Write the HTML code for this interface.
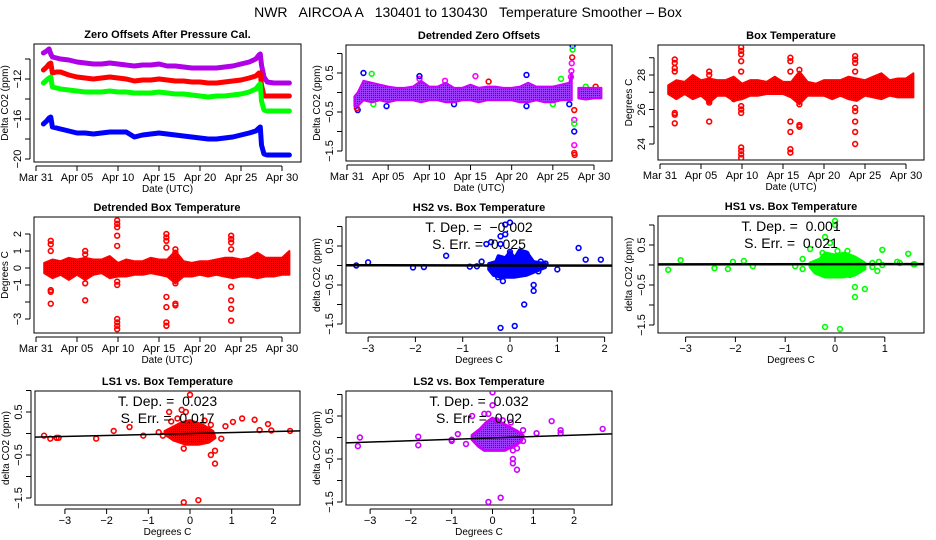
<!DOCTYPE html>
<html><head><meta charset="utf-8"><style>
body{margin:0;background:#fff}
svg{display:block;font-family:"Liberation Sans",sans-serif}
</style></head><body>
<svg id="c" width="936" height="540" viewBox="0 0 936 540">
<defs>
<pattern id="pRed" width="2" height="2" patternUnits="userSpaceOnUse"><rect width="2" height="2" fill="#f00"/><rect x="1" y="1" width="1" height="1" fill="#800"/></pattern>
<pattern id="pMag" width="2" height="2" patternUnits="userSpaceOnUse"><rect width="2" height="2" fill="#f0f"/><rect x="1" y="1" width="1" height="1" fill="#40f"/><rect x="0" y="0" width="1" height="1" fill="#a040ff"/></pattern>
</defs>
<text x="468" y="17" text-anchor="middle" font-size="14" style="white-space:pre">NWR   AIRCOA A   130401 to 130430   Temperature Smoother – Box</text>
</svg>
<script>
// ---- data ----
const p1Days=[0.9,1.3,1.6,1.8,2.0,2.5,3,4,5,6,7,8,9,10,11,12,13,14,15,16,17,18,19,20,21,22,23,24,25,26,26.8,27.2,27.35,27.5,27.8,28.2,29,30,30.9];
const p1Purple=[-9.4,-9.2,-9.0,-9.5,-9.8,-9.9,-10.0,-10.1,-10.3,-10.4,-10.5,-10.5,-10.4,-10.5,-10.6,-10.7,-10.6,-10.6,-10.5,-10.7,-10.7,-10.8,-10.9,-10.9,-10.9,-10.9,-10.8,-10.7,-10.5,-10.3,-10.0,-9.6,-9.5,-10.6,-11.8,-12.3,-12.4,-12.4,-12.4];
const p1Red=[-11.1,-10.8,-10.5,-10.4,-11.4,-11.3,-11.3,-11.6,-11.8,-11.9,-12.0,-11.9,-11.8,-11.9,-12.0,-12.2,-12.1,-12.1,-12.0,-12.1,-12.2,-12.2,-12.3,-12.3,-12.4,-12.4,-12.3,-12.2,-12.1,-11.9,-11.7,-11.4,-11.4,-12.6,-13.7,-13.7,-13.7,-13.7,-13.7];
const p1Green=[-12.4,-12.1,-11.9,-11.8,-12.8,-12.9,-13.0,-13.1,-13.2,-13.3,-13.3,-13.3,-13.2,-13.3,-13.3,-13.4,-13.4,-13.4,-13.3,-13.4,-13.5,-13.5,-13.6,-13.7,-13.8,-13.7,-13.7,-13.6,-13.5,-13.3,-13.0,-12.6,-12.5,-14.2,-15.1,-15.2,-15.2,-15.2,-15.2];
const p1Blue=[-16.5,-16.2,-15.9,-15.8,-16.8,-16.9,-17.0,-17.2,-17.4,-17.4,-17.5,-17.4,-17.3,-17.3,-17.3,-17.8,-17.6,-17.5,-17.4,-17.5,-17.6,-17.7,-17.8,-17.9,-18.0,-18.0,-17.9,-17.8,-17.6,-17.4,-17.2,-16.9,-16.8,-18.6,-19.5,-19.6,-19.6,-19.6,-19.6];

const p2Days=[0.9,1.3,2,3,4,5,6,7,8,9,10,11,12,13,14,15,16,17,18,19,20,21,22,23,24,25,26,27,27.3];
const p2Top=[-0.1,0.0,0.3,0.25,0.2,0.15,0.12,0.12,0.15,0.3,0.15,0.15,0.25,0.12,0.12,0.2,0.12,0.15,0.15,0.12,0.12,0.15,0.25,0.15,0.15,0.15,0.2,0.25,0.5];
const p2Bot=[-0.35,-0.35,-0.2,-0.25,-0.2,-0.25,-0.2,-0.2,-0.2,-0.25,-0.2,-0.2,-0.25,-0.25,-0.2,-0.2,-0.25,-0.2,-0.2,-0.2,-0.2,-0.25,-0.25,-0.2,-0.25,-0.25,-0.2,-0.2,-0.2];
const p2Days2=[28.1,29,30,30.9];
const p2Top2=[0.12,0.12,0.12,0.12];
const p2Bot2=[-0.15,-0.18,-0.15,-0.15];
const p2OutDay=[1.3,2,3,3.2,4.8,1.2,8.8,8.8,15.6,17.2,21.8,21.8,26,25,27,27.4,27.4,27.35,27.3,27.25,27.2,27.6,27.6,27.6,27.6,27.6,27.6,27.65,29,30.2,11.9,13];
const p2OutVal=[-0.45,0.5,0.48,-0.3,-0.35,-0.4,0.35,0.42,0.42,0.28,0.45,-0.35,0.35,-0.3,-0.3,1.2,1.1,0.9,0.75,0.55,0.4,-0.45,-0.7,-0.8,-1.0,-1.35,-1.55,-1.6,0.15,0.15,0.3,-0.3];
const p2OutSer=[3,3,2,2,3,0,1,3,1,0,3,3,2,2,3,3,2,0,1,1,1,0,1,2,3,1,0,0,2,0,1,3];

const p3Day=[1,2,3,4,5,6,7,8,9,10,11,12,13,14,15,16,17,18,19,20,21,22,23,24,25,26,27,28,29,30,30.9];
const p3Top=[27.4,27.7,27.6,28.0,27.7,27.8,27.7,27.7,27.9,27.5,27.7,27.7,27.6,27.9,27.6,27.6,28.2,27.6,27.5,27.7,27.7,27.7,27.9,27.8,27.7,27.9,28.1,27.7,27.8,27.8,28.1];
const p3Bot=[26.9,26.6,26.9,26.6,26.8,26.4,26.8,26.8,26.5,26.6,26.8,26.8,26.9,26.9,26.9,26.7,26.3,26.8,26.8,26.8,26.6,26.8,26.6,26.5,26.8,26.7,26.6,26.8,26.7,26.7,26.7];
const p3OutDay=[1.8,1.8,1.8,1.8,1.8,1.8,1.8,6,6,6,6,6,9,9.9,9.9,9.9,9.9,9.9,9.9,9.9,9.9,9.9,9.9,9.9,9.9,15.9,15.9,15.9,15.9,15.9,15.9,15.9,17,17,17,17,23.8,23.8,23.8,23.8,23.8,23.8,23.8,23.8,23.8];
const p3OutVal=[28.9,28.7,28.4,28.2,25.8,25.7,25.2,28.2,28.0,26.5,26.4,25.3,26.6,29.6,29.4,29.2,28.8,28.2,26.2,26.0,25.8,23.8,23.6,23.4,23.2,29.0,28.8,28.2,25.3,24.7,23.7,23.5,28.3,26.3,25.1,25.0,29.1,28.9,28.7,28.2,26.1,25.9,25.3,24.7,24.0];

const p4Top=[0.3,0.5,0.4,0.6,0.5,0.6,0.5,0.5,0.7,0.3,0.5,0.4,0.4,0.6,0.5,0.5,1.0,0.4,0.3,0.4,0.4,0.5,0.6,0.6,0.5,0.6,0.9,0.6,0.6,0.6,1.0];
const p4Bot=[-0.3,-0.6,-0.4,-0.7,-0.4,-0.7,-0.4,-0.3,-0.6,-0.5,-0.5,-0.4,-0.4,-0.3,-0.4,-0.5,-0.9,-0.5,-0.5,-0.4,-0.5,-0.4,-0.5,-0.6,-0.5,-0.5,-0.6,-0.5,-0.5,-0.4,-0.4];
const p4OutDay=[1.8,1.8,1.8,1.8,1.8,1.8,6,6,6,6,9.9,9.9,9.9,9.9,9.9,9.9,9.9,9.9,9.9,9.9,9.9,15.9,15.9,15.9,15.9,15.9,15.9,15.9,15.9,17,17,17,17,17,23.8,23.8,23.8,23.8,23.8,23.8,23.8,23.8];
const p4OutVal=[1.6,1.4,1.0,-1.4,-1.3,-2.1,1.0,0.8,-0.9,-1.9,2.8,2.6,2.4,1.9,1.3,-1.0,-0.8,-3.0,-3.2,-3.4,-3.6,2.0,1.8,1.6,1.2,-1.7,-2.3,-3.2,-3.4,1.1,0.9,-0.9,-2.1,-2.2,1.9,1.7,1.5,1.1,-1.1,-1.9,-2.4,-3.1];

const hs2CloudX=[-0.45,-0.3,-0.25,-0.1,0,0.1,0.2,0.35,0.5,0.75,0.75,0.55,0.35,0.1,-0.2,-0.35,-0.45];
const hs2CloudY=[0.05,0.1,0.25,0.2,0.35,0.2,0.4,0.35,0.1,0.05,-0.05,-0.15,-0.25,-0.3,-0.3,-0.25,-0.1];
const hs2X=[-3.25,-3,-2.05,-1.82,-1.35,-0.85,-0.7,-0.6,-0.5,-0.4,-0.2,-0.1,-0.1,0,-0.2,0,-0.15,-0.25,0.5,0.5,0.3,-0.2,0.1,0.35,0.65,0.75,1.0,1.45,1.6,1.92,0.6];
const hs2Y=[0,0.08,-0.05,-0.04,0.25,-0.03,-0.02,0.1,0.55,0.6,0.75,0.8,1.05,1.1,0.55,0.35,-0.4,-0.3,-0.5,-0.65,-1.0,-1.6,-1.55,0.3,0.1,0.05,-0.1,0.45,0.15,0.15,-0.15];
const hs2Fit=[0.0,-0.002];

const hs1CloudX=[-0.5,-0.3,-0.2,0,0.2,0.4,0.6,0.6,0.4,0.15,-0.2,-0.4,-0.5];
const hs1CloudY=[0.05,0.15,0.3,0.25,0.3,0.2,0.05,-0.1,-0.25,-0.3,-0.3,-0.2,-0.05];
const hs1X=[-3.35,-3.1,-2.42,-2.15,-2.05,-1.83,-1.65,-0.8,-0.65,-0.65,-0.5,-0.25,-0.2,-0.1,0,0,0.05,0.25,0.4,0.4,0.6,-0.2,0.1,0.75,0.75,0.88,0.85,0.95,0.95,1.25,1.3,1.47,1.58,1.6,0.3];
const hs1Y=[-0.12,0.12,-0.08,-0.1,0.08,0.1,-0.03,-0.03,0.15,-0.1,0.4,0.3,0.7,0.55,1.1,1.0,0.35,0.35,-0.55,-0.8,-0.6,-1.55,-1.6,0.05,-0.05,0.08,-0.15,0.38,0,0.08,0.05,0.28,0.02,0.02,-0.25];
const hs1Fit=[0.02,0.001];

const ls1CloudX=[-0.6,-0.4,-0.2,0,0.3,0.55,0.6,0.45,0.2,-0.1,-0.4,-0.55];
const ls1CloudY=[0.05,0.15,0.25,0.3,0.2,0.05,-0.1,-0.2,-0.25,-0.25,-0.15,-0.05];
const ls1X=[-3.5,-3.35,-3.2,-3.15,-2.25,-1.83,-1.45,-1.12,-0.75,-0.65,-0.5,-0.45,-0.3,-0.2,-0.1,0,-0.15,0.5,0.6,0.6,-0.15,0.2,0.75,0.85,1.03,1.25,1.55,1.67,1.87,1.95,2.4,0.5,0.35];
const ls1Y=[-0.05,-0.12,-0.1,-0.1,-0.12,0.06,0.15,-0.05,0.03,-0.05,0.5,0.28,0.35,0.55,0.5,0.9,-0.35,-0.5,-0.4,-0.7,-1.6,-1.55,-0.12,0.17,0.27,0.35,0.32,0.08,0.22,0.07,0.06,0.2,0.3];
const ls1Fit=[0.0,0.023];

const ls2CloudX=[-0.5,-0.3,-0.15,0,0.2,0.4,0.6,0.75,0.7,0.5,0.3,0,-0.2,-0.35,-0.5];
const ls2CloudY=[0.05,0.2,0.35,0.45,0.35,0.25,0.15,0.05,-0.1,-0.2,-0.3,-0.3,-0.3,-0.2,-0.05];
const ls2X=[-3.3,-3.25,-1.82,-1.82,-1.0,-1.0,-0.85,-0.65,-0.5,-0.2,-0.1,0,0,0.1,0.25,0.45,0.5,0.5,0.5,0.6,0.6,-0.1,0.2,0.75,0.75,1.08,1.45,1.67,1.67,2.7];
const ls2Y=[-0.2,0,0.02,-0.18,-0.08,-0.05,0.08,-0.15,0.5,0.55,0.55,0.75,1.05,0.4,0.4,0.35,-0.3,-0.5,-0.6,-0.25,-0.75,-1.5,-1.4,0.17,-0.08,0.1,0.38,0.17,0.1,0.2];
const ls2Fit=[-0.01,0.032];

const dateTicks=[0,5,10,15,20,25,30];
const dateLabels=["Mar 31","Apr 05","Apr 10","Apr 15","Apr 20","Apr 25","Apr 30"];

// ---- helpers ----
const S=document.getElementById('c');
const NS='http://www.w3.org/2000/svg';
function mk(tag,attrs,parent,txt){const e=document.createElementNS(NS,tag);for(const k in attrs)e.setAttribute(k,attrs[k]);if(txt!==undefined)e.textContent=txt;(parent||S).appendChild(e);return e;}
function lin(d0,p0,d1,p1){return v=>p0+(v-d0)*(p1-p0)/(d1-d0);}

function panel(name,box,xs,ys,xt,xl,yt,yl,title,xlab,ylab){
  const g=mk('g',{});
  
  
  const r=mk('rect',{x:box.l,y:box.t,width:box.r-box.l,height:box.b-box.t,fill:'none',stroke:'#000','stroke-width':1},g);
  
  
  const tt=mk('text',{x:(box.l+box.r)/2,y:box.t-6,'text-anchor':'middle','font-size':11,'font-weight':'bold'},g,title);
  
  
  const xa=mk('g',{},g);
  
  
  mk('line',{x1:xs(xt[0]),x2:xs(xt[xt.length-1]),y1:box.b+4,y2:box.b+4,stroke:'#000'},xa);
  xt.forEach((t,i)=>{const x=xs(t);mk('line',{x1:x,x2:x,y1:box.b+4,y2:box.b+9,stroke:'#000'},xa);
    if(xl[i])mk('text',{x:x,y:box.b+19,'text-anchor':'middle','font-size':11},xa,xl[i]);});
  const xtl=mk('text',{x:(box.l+box.r)/2,y:box.b+30,'text-anchor':'middle','font-size':10},g,xlab);
  
  
  const ya=mk('g',{},g);
  
  
  mk('line',{x1:box.l-4,x2:box.l-4,y1:ys(yt[0]),y2:ys(yt[yt.length-1]),stroke:'#000'},ya);
  yt.forEach((t,i)=>{const y=ys(t);mk('line',{x1:box.l-9,x2:box.l-4,y1:y,y2:y,stroke:'#000'},ya);
    if(yl[i])mk('text',{x:box.l-13,y:y,'text-anchor':'middle','font-size':11,transform:`rotate(-90 ${box.l-13} ${y})`},ya,yl[i]);});
  const yx=box.l-26,yy=(box.t+box.b)/2;
  const ytl=mk('text',{x:yx,y:yy,'text-anchor':'middle','font-size':10,transform:`rotate(-90 ${yx} ${yy})`},g,ylab);
  
  
  const clip='cl'+name;
  const cp=mk('clipPath',{id:clip},g);mk('rect',{x:box.l,y:box.t,width:box.r-box.l,height:box.b-box.t},cp);
  const pg=mk('g',{'clip-path':`url(#${clip})`},g);
  
  
  return pg;
}
function circ(g,x,y,col,nm){const c=mk('circle',{cx:x,cy:y,r:2.4,fill:'none',stroke:col,'stroke-width':1.6},g);
  
  return c;}
function band(g,xs,ys,days,top,bot,fill,nm){
  let pts=days.map((d,i)=>xs(d)+','+ys(top[i]));
  pts=pts.concat(days.map((d,i)=>xs(d)+','+ys(bot[i])).reverse());
  const p=mk('polygon',{points:pts.join(' '),fill:fill,stroke:fill==='url(#pRed)'?'#f00':'#c0f','stroke-width':2,'stroke-linejoin':'round'},g);
  
  
}

// ---- panel 1 ----
{const box={l:34,t:44,r:301,b:162};
 const xs=lin(0,36,30,282), ys=lin(-12,79,-16,119);
 const g=panel('zero-offsets-panel',box,xs,ys,dateTicks,dateLabels,[-10,-12,-14,-16,-18,-20],['','−12','','−16','','−20'],'Zero Offsets After Pressure Cal.','Date (UTC)','Delta CO2  (ppm)');
 [[p1Purple,'#b000e8','series-purple'],[p1Red,'#f00','series-red'],[p1Green,'#0f0','series-green'],[p1Blue,'#00f','series-blue']].forEach(([arr,col,nm])=>{
  const l=mk('polyline',{points:p1Days.map((d,i)=>xs(d)+','+ys(arr[i])).join(' '),fill:'none',stroke:col,'stroke-width':5,'stroke-linejoin':'round','stroke-linecap':'round'},g);
  
  });
}
// ---- panel 2 ----
{const box={l:346,t:45,r:612,b:161};
 const xs=lin(0,347,30,594), ys=lin(0.5,73,-1.5,151);
 const g=panel('detrended-zero-offsets-panel',box,xs,ys,dateTicks,dateLabels,[1,0.5,0,-0.5,-1,-1.5],['','0.5','','−0.5','','−1.5'],'Detrended Zero Offsets','Date (UTC)','Delta CO2  (ppm)');
 const cols=['#f00','#f0f','#0f0','#00f'];
 p2OutDay.forEach((d,i)=>circ(g,xs(d),ys(p2OutVal[i]),cols[p2OutSer[i]],'outlier-point'));
 band(g,xs,ys,p2Days,p2Top,p2Bot,'url(#pMag)','offset-band');
 band(g,xs,ys,p2Days2,p2Top2,p2Bot2,'url(#pMag)','offset-band-after');
}
// ---- panel 3 ----
{const box={l:658,t:45,r:924,b:160};
 const xs=lin(0,660,30,906), ys=lin(28,75,24,144);
 const g=panel('box-temperature-panel',box,xs,ys,dateTicks,dateLabels,[29,28,27,26,25,24],['','28','','26','','24'],'Box Temperature','Date (UTC)','Degrees C');
 band(g,xs,ys,p3Day,p3Top,p3Bot,'url(#pRed)','temperature-band');
 p3OutDay.forEach((d,i)=>circ(g,xs(d),ys(p3OutVal[i]),'#f00','outlier-point'));
}
// ---- panel 4 ----
{const box={l:34,t:217,r:300,b:333};
 const xs=lin(0,36,30,282), ys=lin(0,268,2,234);
 const g=panel('detrended-box-temperature-panel',box,xs,ys,dateTicks,dateLabels,[2,1,0,-1,-2,-3],['2','1','0','−1','','−3'],'Detrended Box Temperature','Date (UTC)','Degrees C');
 band(g,xs,ys,p3Day,p4Top,p4Bot,'url(#pRed)','temperature-band');
 p4OutDay.forEach((d,i)=>circ(g,xs(d),ys(p4OutVal[i]),'#f00','outlier-point'));
}
// ---- scatter panels ----
function scatter(name,box,xs,ys,xt,title,cx,cy,px,py,fit,col,fill,td,se,lw){
 const xl=xt.map(v=>v<0?'−'+(-v):String(v));
 const g=panel(name,box,xs,ys,xt,xl,[1,0.5,0,-0.5,-1,-1.5],['','0.5','','−0.5','','−1.5'],title,'Degrees C','delta CO2  (ppm)');
 const c=mk('polygon',{points:cx.map((x,i)=>xs(x)+','+ys(cy[i])).join(' '),fill:fill,stroke:col,'stroke-width':3,'stroke-linejoin':'round'},g);
 
 
 px.forEach((x,i)=>circ(g,xs(x),ys(py[i]),col,'data-point'));
 const x0=-4,x1=3;
 const ln=mk('line',{x1:xs(x0),y1:ys(fit[0]+fit[1]*x0),x2:xs(x1),y2:ys(fit[0]+fit[1]*x1),stroke:'#000','stroke-width':lw},g);
 
 
 const mx=(box.l+box.r)/2;
 const t1=mk('text',{x:mx,y:box.t+15,'text-anchor':'middle','font-size':14,style:'white-space:pre'},S,'T. Dep. =  '+td);
 
 
 const t2=mk('text',{x:mx,y:box.t+32,'text-anchor':'middle','font-size':14,style:'white-space:pre'},S,'S. Err. =  '+se);
 
 
}
scatter('hs2-panel',{l:346,t:217,r:612,b:333},lin(0,510,2,604.6),lin(0,265.5,0.5,246),[-3,-2,-1,0,1,2],'HS2 vs. Box Temperature',hs2CloudX,hs2CloudY,hs2X,hs2Y,hs2Fit,'#00f','#00f','−0.002','0.025',2.5);
scatter('hs1-panel',{l:658,t:216,r:924,b:333},lin(0,835,1,884.8),lin(0,265,0.5,245),[-3,-2,-1,0,1],'HS1 vs. Box Temperature',hs1CloudX,hs1CloudY,hs1X,hs1Y,hs1Fit,'#0f0','#0f0','0.001','0.021',2.5);
scatter('ls1-panel',{l:35,t:391,r:300,b:505},lin(0,190,2,273.4),lin(0,433.5,0.5,412),[-3,-2,-1,0,1,2],'LS1 vs. Box Temperature',ls1CloudX,ls1CloudY,ls1X,ls1Y,ls1Fit,'#f00','url(#pRed)','0.023','0.017',1.5);
scatter('ls2-panel',{l:346,t:391,r:612,b:505},lin(0,492.5,2,574.1),lin(0,437.5,0.5,416),[-3,-2,-1,0,1,2],'LS2 vs. Box Temperature',ls2CloudX,ls2CloudY,ls2X,ls2Y,ls2Fit,'#c0f','url(#pMag)','0.032','0.02',1.5);
</script>
</body></html>
